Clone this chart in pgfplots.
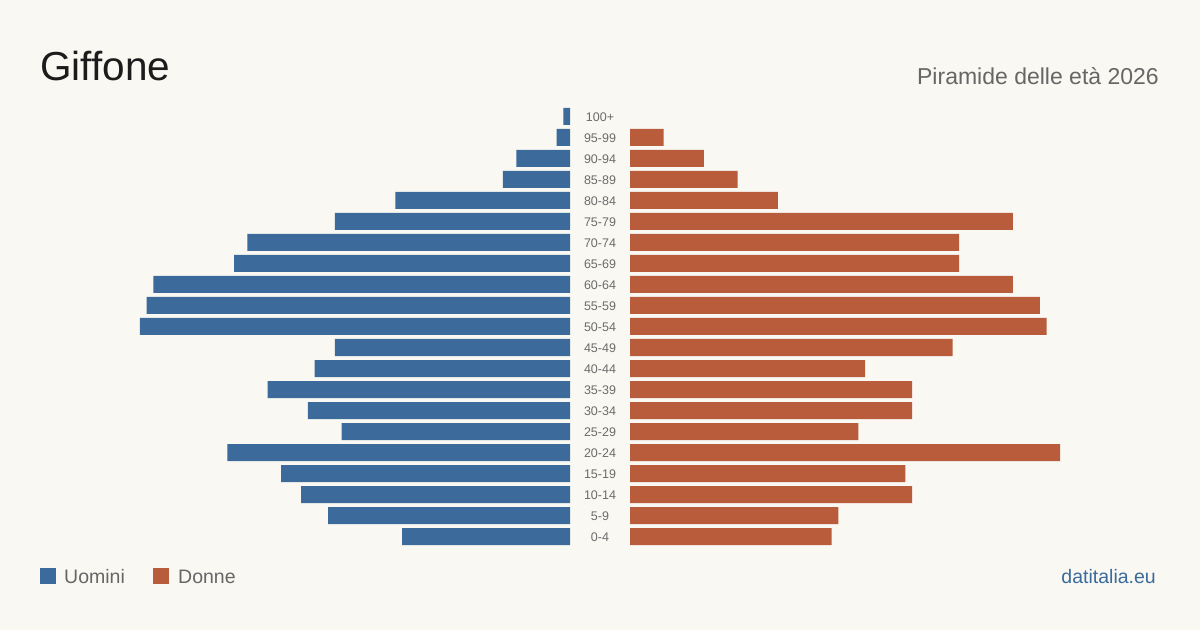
\documentclass[border=0pt]{standalone}
\usepackage{pgfplots}
\pgfplotsset{compat=1.18}
\usepackage{fontspec}
\setmainfont[Ligatures={NoCommon}]{Liberation Sans}

\definecolor{bgc}{HTML}{F9F8F3}
\definecolor{men}{HTML}{3B6A9B}
\definecolor{women}{HTML}{B95C3C}
\definecolor{titlec}{HTML}{1C1C1C}
\definecolor{subc}{HTML}{666666}
\definecolor{agec}{HTML}{6B6B6B}

% Age classes: index 0 = 0-4 ... index 20 = 100+
\pgfplotsset{
  pyr/.style={
    scale only axis,
    width=430pt, height=441pt,
    xmin=0, xmax=64,
    ymin=-0.5, ymax=20.5,
    xbar, bar width=17pt, bar shift=0pt,
    axis line style={draw=none},
    xtick=\empty,
    major tick length=0pt,
    clip=false,
  }
}

\begin{document}
\begin{tikzpicture}[x=1pt,y=1pt]
\fill[bgc] (0,0) rectangle (1200,630);

% Uomini (left side, growing leftwards)
\begin{axis}[pyr, at={(570pt,83pt)}, anchor=south west, x dir=reverse,
  xshift=-430pt, ytick=\empty]
\addplot[fill=men, draw=none] coordinates {
 (25,0) (36,1) (40,2) (43,3) (51,4) (34,5) (39,6) (45,7) (38,8) (35,9)
 (64,10) (63,11) (62,12) (50,13) (48,14) (35,15) (26,16) (10,17) (8,18) (2,19) (1,20)
};
\end{axis}

% Donne (right side)
\begin{axis}[pyr, at={(630pt,83pt)}, anchor=south west,
  ytick={0,...,20},
  yticklabels={0-4,5-9,10-14,15-19,20-24,25-29,30-34,35-39,40-44,45-49,50-54,55-59,60-64,65-69,70-74,75-79,80-84,85-89,90-94,95-99,100+},
  yticklabel style={anchor=center, xshift=-30pt, yshift=-1pt, inner sep=0pt,
    font=\fontsize{12.5}{14}\selectfont, text=agec}]
\addplot[fill=women, draw=none] coordinates {
 (30,0) (31,1) (42,2) (41,3) (64,4) (34,5) (42,6) (42,7) (35,8) (48,9)
 (62,10) (61,11) (57,12) (49,13) (49,14) (57,15) (22,16) (16,17) (11,18) (5,19)
};
\end{axis}

% Title and subtitle
\node[anchor=base west, inner sep=0pt, text=titlec, font=\fontsize{40.5}{48}\selectfont] at (40,549) {Giffone};
\node[anchor=base east, inner sep=0pt, text=subc, font=\fontsize{23}{28}\selectfont] at (1159,545) {Piramide delle età 2026};

% Legend
\fill[men] (40,46) rectangle (56,62);
\node[anchor=base west, inner sep=0pt, text=subc, font=\fontsize{19.5}{24}\selectfont] at (64,47) {Uomini};
\fill[women] (153,46) rectangle (169,62);
\node[anchor=base west, inner sep=0pt, text=subc, font=\fontsize{19.5}{24}\selectfont] at (178,47) {Donne};

% Source
\node[anchor=base east, inner sep=0pt, text=men, font=\fontsize{19.5}{24}\selectfont] at (1156,47) {datitalia.eu};

\pgfresetboundingbox
\useasboundingbox (0,0) rectangle (1200,630);
\end{tikzpicture}
\end{document}
